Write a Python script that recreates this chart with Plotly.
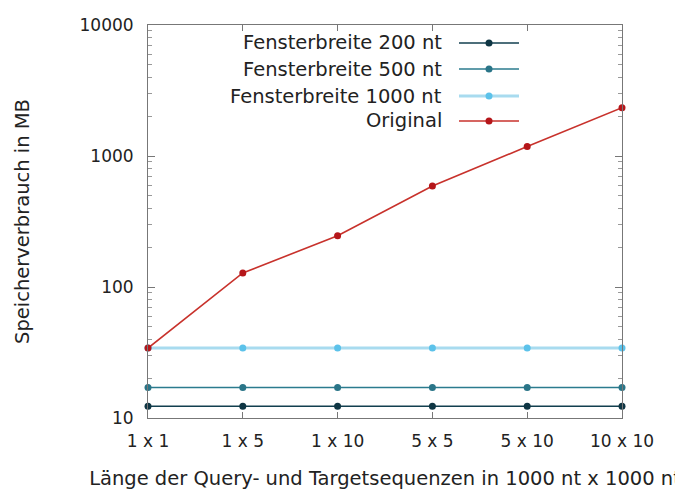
import plotly.graph_objects as go

categories = ["1 x 1", "1 x 5", "1 x 10", "5 x 5", "5 x 10", "10 x 10"]
fenster_200 = [12.3, 12.3, 12.3, 12.3, 12.3, 12.3]
fenster_500 = [17.1, 17.1, 17.1, 17.1, 17.1, 17.1]
fenster_1000 = [34.2, 34.2, 34.2, 34.2, 34.2, 34.2]
original = [34.2, 128, 246, 590, 1180, 2340]

series_names = ["Fensterbreite 200 nt", "Fensterbreite 500 nt", "Fensterbreite 1000 nt", "Original"]
series_values = [fenster_200, fenster_500, fenster_1000, original]
line_colors = ["#123f4f", "#2b7b8e", "#a8dbef", "#c8322c"]
marker_colors = ["#0f3644", "#2a7588", "#5cc2ea", "#b5161a"]
line_widths = [1.6, 1.6, 3.0, 1.6]

FONT = "DejaVu Sans"
OFF = 8  # default body margin of the html page
W, H = 683 - OFF, 496 - OFF
# plot area in page pixels: x 148..622, y 25..418
ML, MT = 148 - OFF, 25 - OFF
MR = W - (622 - OFF)
MB = H - (418 - OFF)

fig = go.Figure()
for name, vals, lc, mc, lw in zip(series_names, series_values, line_colors, marker_colors, line_widths):
    fig.add_trace(go.Scatter(
        x=categories, y=vals, name=name, mode="lines+markers",
        line=dict(color=lc, width=lw),
        marker=dict(color=mc, size=7),
        cliponaxis=False, showlegend=False,
    ))

# gnuplot-style legend (text left, sample right)
pw = 622 - 148
ph = 418 - 25
text_right = (444 - 148) / pw
samp_x0 = (459 - 148) / pw
samp_x1 = (519 - 148) / pw
samp_xm = (489 - 148) / pw
row_px = [43, 69, 96, 121]
annotations = []
shapes = []
for name, lc, mc, lw, ry in zip(series_names, line_colors, marker_colors, line_widths, row_px):
    yp = (418 - ry) / ph
    annotations.append(dict(xref="paper", yref="paper", x=text_right, y=yp, text=name,
                            showarrow=False, xanchor="right", yanchor="middle",
                            font=dict(family=FONT, size=19.5, color="#222")))
    shapes.append(dict(type="line", xref="paper", yref="paper", x0=samp_x0, x1=samp_x1,
                       y0=yp, y1=yp, line=dict(color=lc, width=lw)))
    shapes.append(dict(type="circle", xref="paper", yref="paper", xsizemode="pixel",
                       ysizemode="pixel", xanchor=samp_xm, yanchor=yp,
                       x0=-3.5, x1=3.5, y0=-3.5, y1=3.5,
                       fillcolor=mc, line=dict(width=0)))

fig.update_layout(
    width=W, height=H,
    margin=dict(l=ML, r=MR, t=MT, b=MB, autoexpand=False),
    paper_bgcolor="white", plot_bgcolor="white",
    font=dict(family=FONT, size=17, color="#222"),
    annotations=annotations, shapes=shapes,
    xaxis=dict(
        type="category", range=[0, 5],
        showline=True, linecolor="#777", linewidth=1, mirror="ticks",
        ticks="inside", ticklen=6, tickcolor="#777",
        showgrid=False, zeroline=False, ticklabelstandoff=8,
        tickfont=dict(family=FONT, size=17, color="#222"),
        title=dict(text="Länge der Query- und Targetsequenzen in 1000 nt x 1000 nt",
                   font=dict(family=FONT, size=19.5, color="#222"), standoff=20),
    ),
    yaxis=dict(
        type="log", range=[1, 4], dtick=1,
        tickvals=[10, 100, 1000, 10000], ticktext=["10", "100", "1000", "10000"],
        showline=True, linecolor="#777", linewidth=1, mirror="ticks",
        ticks="inside", ticklen=7, tickcolor="#777",
        minor=dict(ticks="inside", ticklen=4, tickcolor="#999", dtick="D1"),
        showgrid=False, zeroline=False, ticklabelstandoff=10,
        tickfont=dict(family=FONT, size=17, color="#222"),
        title=dict(text="Speicherverbrauch in MB",
                   font=dict(family=FONT, size=19.5, color="#222"), standoff=44),
    ),
)

fig.write_html("out.html")
